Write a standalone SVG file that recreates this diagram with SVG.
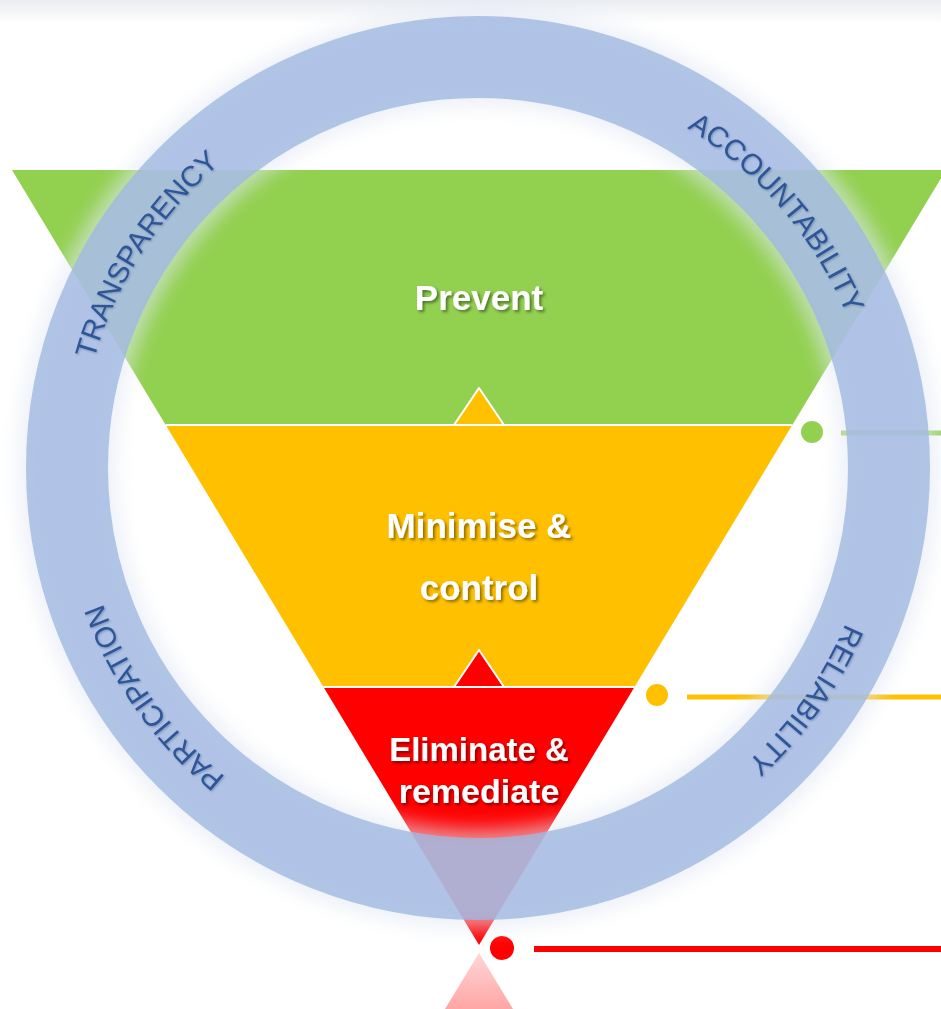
<svg xmlns="http://www.w3.org/2000/svg" width="941" height="1009" viewBox="0 0 941 1009">
<defs>
<style>
.lbl{font-family:"Liberation Sans",Arial,sans-serif;font-weight:bold;fill:#fff;text-anchor:middle;filter:url(#tshadow)}
.ring{font-family:"Liberation Sans",Arial,sans-serif;font-size:29px;fill:#2f5597;filter:url(#rshadow)}
.sep{fill:none;stroke:#fff;stroke-width:2}
</style>
<linearGradient id="topband" x1="0" y1="0" x2="0" y2="1">
<stop offset="0" stop-color="#e9ecf1"/>
<stop offset="1" stop-color="#ffffff"/>
</linearGradient>
<linearGradient id="refl" x1="0" y1="0" x2="0" y2="1">
<stop offset="0" stop-color="#ffd6d6"/>
<stop offset="1" stop-color="#ffa6a6"/>
</linearGradient>
<filter id="glow" x="-20%" y="-20%" width="140%" height="140%">
<feGaussianBlur stdDeviation="9"/>
</filter>
<filter id="tshadow" x="-10%" y="-30%" width="120%" height="160%">
<feDropShadow dx="2" dy="2" stdDeviation="1.5" flood-color="#000" flood-opacity="0.45"/>
</filter>
<filter id="rshadow" x="-10%" y="-10%" width="120%" height="120%">
<feDropShadow dx="1" dy="1" stdDeviation="1" flood-color="#1f3864" flood-opacity="0.35"/>
</filter>
<path id="ringpath" d="M 877,468 A 399 399 0 1 1 79,468 A 399 399 0 1 1 877,468"/>
</defs>
<rect width="941" height="1009" fill="#fff"/>
<rect width="941" height="24" fill="url(#topband)"/>

<g id="connectors">
<line x1="841" y1="433" x2="941" y2="433" stroke="#92d050" stroke-width="5"/>
<line x1="687" y1="697" x2="941" y2="697" stroke="#ffc000" stroke-width="5"/>
<line x1="534" y1="949" x2="941" y2="949" stroke="#ff0000" stroke-width="6"/>
</g>

<g id="prevent">
<polygon points="12,170 946,170 792.3,425 165.7,425" fill="#92d050"/>
</g>
<g id="minimise">
<polygon points="165.7,425 792.3,425 634.5,687 323.5,687" fill="#ffc000"/>
<polygon points="479,388 504,425 454,425" fill="#ffc000" stroke="#fff" stroke-width="2" stroke-linejoin="round"/>
</g>
<g id="eliminate">
<polygon points="323.5,687 634.5,687 479,945" fill="#ff0000"/>
<polygon points="479,650 504,687 454,687" fill="#ff0000" stroke="#fff" stroke-width="2" stroke-linejoin="round"/>
</g>
<line class="sep" x1="165.7" y1="425" x2="792.3" y2="425"/>
<line class="sep" x1="323.5" y1="687" x2="634.5" y2="687"/>
<polygon id="reflection" points="479,953 513,1009 445,1009" fill="url(#refl)"/>

<g id="dots">
<circle cx="812" cy="432" r="11" fill="#92d050"/>
<circle cx="657" cy="695" r="11" fill="#ffc000"/>
<circle cx="502" cy="948" r="12" fill="#ff0000"/>
</g>

<g id="ring">
<circle cx="478" cy="468" r="411" fill="none" stroke="#e2e8f3" stroke-width="100" opacity="0.6" filter="url(#glow)"/>
<circle cx="478" cy="468" r="411" fill="none" stroke="#a0b8e1" stroke-width="82" opacity="0.8"/>
<text class="ring"><textPath href="#ringpath" startOffset="59.1%" text-anchor="middle">TRANSPARENCY</textPath></text>
<text class="ring"><textPath href="#ringpath" startOffset="88.75%" text-anchor="middle">ACCOUNTABILITY</textPath></text>
<text class="ring"><textPath href="#ringpath" startOffset="9.8%" text-anchor="middle">RELIABILITY</textPath></text>
<text class="ring"><textPath href="#ringpath" startOffset="40.2%" text-anchor="middle">PARTICIPATION</textPath></text>
</g>

<g id="labels">
<text class="lbl" x="479" y="310" font-size="35">Prevent</text>
<text class="lbl" x="479" y="538" font-size="35">Minimise &amp;</text>
<text class="lbl" x="479" y="600" font-size="35">control</text>
<text class="lbl" x="479" y="761" font-size="33">Eliminate &amp;</text>
<text class="lbl" x="479" y="803" font-size="34">remediate</text>
</g>
</svg>
